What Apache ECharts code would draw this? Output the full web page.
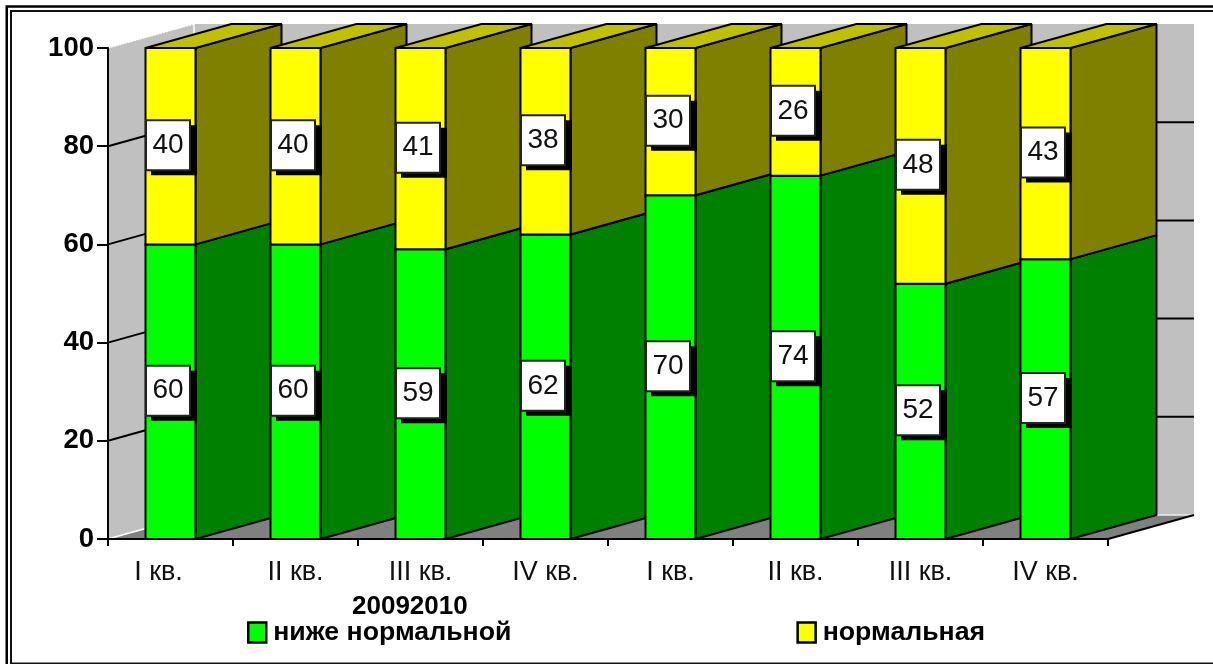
<!DOCTYPE html>
<html>
<head>
<meta charset="utf-8">
<script src="https://cdn.jsdelivr.net/npm/echarts@6/dist/echarts.min.js"></script>
<style>html,body{margin:0;padding:0;background:#fff;overflow:hidden}#c{width:1213px;height:664px}</style>
</head>
<body>
<div id="c"></div>
<script>
var categories = ['I кв.', 'II кв.', 'III кв.', 'IV кв.', 'I кв.', 'II кв.', 'III кв.', 'IV кв.'];
var belowNormal = [60, 60, 59, 62, 70, 74, 52, 57];
var normal = [40, 40, 41, 38, 30, 26, 48, 43];
var yTicks = [0, 20, 40, 60, 80, 100];
var yearLabel = '20092010';
var seriesNames = ['ниже нормальной', 'нормальная'];

var FONT = '"Liberation Sans", Arial, sans-serif';
var DX = 86, DY = -24;

function poly(points, fill, z2, stroke, lw) {
  return {
    type: 'polygon', z2: z2, silent: true,
    shape: { points: points },
    style: { fill: fill, stroke: stroke === undefined ? '#000' : stroke, lineWidth: lw === undefined ? 2 : lw, lineJoin: 'bevel' }
  };
}
function line(a, b, stroke, lw, z2, dash) {
  return {
    type: 'line', z2: z2, silent: true,
    shape: { x1: a[0], y1: a[1], x2: b[0], y2: b[1] },
    style: { stroke: stroke, lineWidth: lw, lineDash: dash || null }
  };
}

function renderWalls(params, api) {
  var cs = params.coordSys;
  var x0 = cs.x, x1 = cs.x + cs.width, y0 = cs.y, y1 = cs.y + cs.height;
  var kids = [];
  kids.push(poly([[x0, y1], [x0 + DX, y1 + DY], [x1 + DX, y1 + DY], [x1, y1]], '#808080', 1, null, 0));
  kids.push(poly([[x0, y0], [x0 + DX, y0 + DY], [x0 + DX, y1 + DY], [x0, y1]], '#C0C0C0', 2, null, 0));
  kids.push(poly([[x0 + DX, y0 + DY], [x1 + DX, y0 + DY], [x1 + DX, y1 + DY], [x0 + DX, y1 + DY]], '#C0C0C0', 2, null, 0));
  yTicks.forEach(function (t) {
    var y = api.coord([0, t])[1];
    if (t > 0 && t < 100) {
      kids.push(line([x0, y], [x0 + DX, y + DY], '#000', 2, 3));
      kids.push(line([x0 + DX, y + DY], [x1 + DX, y + DY], '#000', 2, 3));
    }
  });
  kids.push(line([x0, y0], [x0 + DX, y0 + DY], '#fff', 1.2, 4, [2, 1]));
  kids.push(line([x0 + DX, y0 + DY], [x0 + DX, y1 + DY], '#fff', 1.5, 4));
  kids.push(line([x0, y1], [x0 + DX, y1 + DY], '#fff', 1.5, 4));
  kids.push(line([x0 + DX, y1 + DY], [x1 + DX, y1 + DY], '#eee', 1.5, 4));
  kids.push(line([x1, y1], [x1 + DX, y1 + DY], '#000', 2, 5));
  return { type: 'group', children: kids };
}

function renderSegment(front, side, top, layer) {
  return function (params, api) {
    var i = api.value(0), low = api.value(1), high = api.value(2);
    var cx = api.coord([i, 0])[0];
    var w = api.size([1, 0])[0] * 0.4;
    var yLow = api.coord([i, low])[1], yHigh = api.coord([i, high])[1];
    var l = cx - w / 2, r = cx + w / 2;
    var base = 10 + i * 10 + layer;
    var labelZ = 10 + i * 10 + 5;
    var cy = (yLow + yHigh) / 2 - 1;
    var bx = cx - 2.5 - 22, by = cy - 25;
    return {
      type: 'group',
      children: [
        poly([[r, yLow], [r + DX, yLow + DY], [r + DX, yHigh + DY], [r, yHigh]], side, base),
        poly([[l, yHigh], [l + DX, yHigh + DY], [r + DX, yHigh + DY], [r, yHigh]], top, base),
        { type: 'rect', z2: base + 0.5, silent: true, shape: { x: l, y: yHigh, width: w, height: yLow - yHigh },
          style: { fill: front, stroke: '#000', lineWidth: 2 } },
        { type: 'rect', z2: labelZ, silent: true, shape: { x: bx + 5, y: by + 5, width: 46, height: 50 },
          style: { fill: '#000' } },
        { type: 'rect', z2: labelZ + 1, silent: true, shape: { x: bx, y: by, width: 44, height: 50 },
          style: { fill: '#fff', stroke: '#222', lineWidth: 2 } },
        { type: 'text', z2: labelZ + 2, silent: true,
          style: { x: bx + 22, y: by + 25, text: String(high - low), fill: '#111',
            font: '28px ' + FONT, align: 'center', verticalAlign: 'middle' } }
      ]
    };
  };
}

var lowData = belowNormal.map(function (v, i) { return [i, 0, v]; });
var highData = normal.map(function (v, i) { return [i, belowNormal[i], belowNormal[i] + v]; });

var chart = echarts.init(document.getElementById('c'), null, { renderer: 'canvas' });
chart.setOption({
  animation: false,
  backgroundColor: '#fff',
  grid: { left: 108, top: 48, width: 1000, height: 491, containLabel: false },
  title: {
    text: yearLabel, left: 347, top: 589,
    textStyle: { fontFamily: FONT, fontSize: 26, fontWeight: 'bold', color: '#000' }
  },
  legend: {
    left: 242, top: 614, orient: 'horizontal',
    itemWidth: 18, itemHeight: 20, itemGap: 285, selectedMode: false,
    textStyle: { fontFamily: FONT, fontSize: 26.7, fontWeight: 'bold', color: '#000', padding: [0, 0, 0, 2] },
    data: [
      { name: seriesNames[0], icon: 'rect', itemStyle: { color: '#00FF00', borderColor: '#000', borderWidth: 2.5 } },
      { name: seriesNames[1], icon: 'rect', itemStyle: { color: '#FFFF00', borderColor: '#000', borderWidth: 2.5 } }
    ]
  },
  xAxis: {
    type: 'category', z: 5,
    data: categories.map(function (c, i) {
      return i === 0 ? { value: c, textStyle: { padding: [0, 24, 0, 0] } } : c;
    }),
    axisLine: { lineStyle: { color: '#000', width: 2 } },
    axisTick: { show: true, interval: 0, alignWithLabel: false, length: 7, lineStyle: { color: '#000', width: 2 } },
    axisLabel: { fontFamily: FONT, fontSize: 27, color: '#111', margin: 20, interval: 0 },
    splitLine: { show: false }
  },
  yAxis: {
    type: 'value', z: 5, min: 0, max: 100, interval: 20,
    axisLine: { show: true, lineStyle: { color: '#000', width: 2 } },
    axisTick: { show: true, length: 11, lineStyle: { color: '#000', width: 2 } },
    axisLabel: { fontFamily: FONT, fontSize: 27.5, fontWeight: 'bold', color: '#000', margin: 14 },
    splitLine: { show: false }
  },
  series: [
    { type: 'custom', name: 'walls', silent: true, z: 1, clip: false, data: [[0, 0]],
      renderItem: renderWalls, encode: { x: 0, y: 1 } },
    { type: 'custom', name: seriesNames[0], silent: true, z: 2, clip: false, data: lowData,
      itemStyle: { color: '#00FF00' },
      renderItem: renderSegment('#00FF00', '#008000', '#C0C000', 0), encode: { x: 0, y: 2 } },
    { type: 'custom', name: seriesNames[1], silent: true, z: 2, clip: false, data: highData,
      itemStyle: { color: '#FFFF00' },
      renderItem: renderSegment('#FFFF00', '#808000', '#C0C000', 1), encode: { x: 0, y: 2 } }
  ],
  graphic: [
    { type: 'rect', silent: true, z: 100, shape: { x: 6.75, y: 6.5, width: 1400, height: 1000 },
      style: { fill: null, stroke: '#000', lineWidth: 2.5 } },
    { type: 'rect', silent: true, z: 100, shape: { x: 11, y: 11, width: 1400, height: 652.5 },
      style: { fill: null, stroke: '#111', lineWidth: 2 } }
  ]
});
</script>
</body>
</html>
